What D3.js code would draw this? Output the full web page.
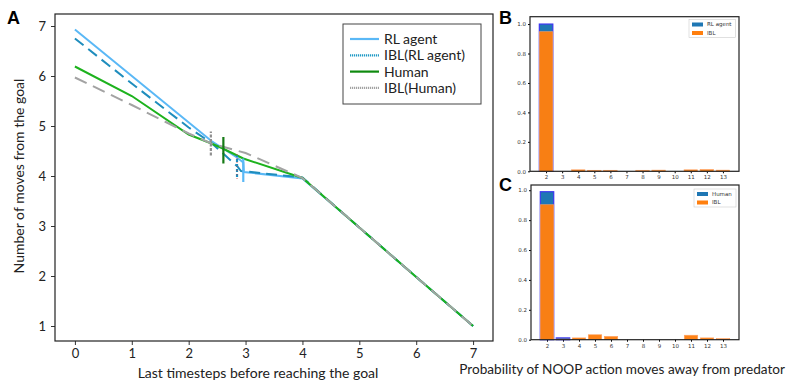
<!DOCTYPE html>
<html>
<head>
<meta charset="utf-8">
<script src="https://cdn.jsdelivr.net/npm/d3@7"></script>
<style>
  body { margin: 0; background: #fff; }
  svg { display: block; }
  .ax text { font-family: Lato, "Noto Sans", sans-serif; font-size: 13px; fill: #222; }
  .ax text.lbl { font-size: 14px; }
  .sm text { font-family: "DejaVu Sans", sans-serif; font-size: 5.5px; fill: #333; }
</style>
</head>
<body>
<svg id="chart" width="787" height="381"></svg>
<script>
// panel A: mean moves from goal over the last timesteps
var rlX = [0, 2.4, 2.85, 2.96, 2.97, 4, 5, 6, 7];
var rlY = [6.93, 4.70, 4.37, 4.27, 4.08, 3.95, 2.97, 1.98, 1];
var iblRlX = [0, 1, 2, 2.4, 2.85, 2.92, 4, 5, 6, 7];
var iblRlY = [6.75, 5.85, 4.97, 4.66, 4.2, 4.1, 3.97, 2.97, 1.98, 1];
var humanX = [0, 1, 2, 2.4, 2.6, 2.96, 4, 5, 6, 7];
var humanY = [6.19, 5.6, 4.83, 4.65, 4.55, 4.35, 3.96, 2.97, 1.98, 1];
var iblHumanX = [0, 1, 2, 2.4, 3, 4, 5, 6, 7];
var iblHumanY = [5.97, 5.42, 4.85, 4.65, 4.46, 3.96, 2.97, 1.98, 1];

// error bars: gray, green, teal, light blue
var errX = [2.39, 2.61, 2.85, 2.96];
var errLo = [4.41, 4.25, 3.98, 3.88];
var errHi = [4.89, 4.78, 4.41, 4.35];

var xTicksA = [0, 1, 2, 3, 4, 5, 6, 7];
var yTicksA = [1, 2, 3, 4, 5, 6, 7];

// panels B and C: probability of NOOP
var cats = [2, 3, 4, 5, 6, 7, 8, 9, 10, 11, 12, 13];
var rlAgentProb = [1.0, 0, 0, 0, 0, 0, 0, 0, 0, 0, 0, 0];
var iblRlProb = [0.948, 0, 0.01, 0.007, 0.007, 0, 0.007, 0.008, 0, 0.01, 0.012, 0.008];
var humanProb = [0.99, 0.012, 0, 0, 0, 0, 0, 0, 0, 0, 0, 0];
var iblHumanProb = [0.903, 0.004, 0.012, 0.033, 0.022, 0, 0, 0, 0, 0.03, 0.012, 0.007];
var yTicksBar = [0, 0.2, 0.4, 0.6, 0.8, 1.0];

var svg = d3.select("#chart");

// ---------- panel A ----------
var x = d3.scaleLinear().domain([-0.35, 7.35]).range([55, 493]);
var y = d3.scaleLinear().domain([0.7, 7.24]).range([341, 14]);

var gA = svg.append("g").attr("class", "ax");

gA.append("g")
  .attr("transform", "translate(0," + y.range()[0] + ")")
  .call(d3.axisBottom(x).tickValues(xTicksA).tickSize(4).tickPadding(4).tickFormat(d3.format("d")))
  .call(function(g) { g.select(".domain").remove(); });
gA.append("g")
  .attr("transform", "translate(" + x.range()[0] + ",0)")
  .call(d3.axisLeft(y).tickValues(yTicksA).tickSize(4).tickPadding(5).tickFormat(d3.format("d")))
  .call(function(g) { g.select(".domain").remove(); });
gA.selectAll(".tick line").attr("stroke", "#333");

var line = d3.line()
  .x(function(d) { return x(d[0]); })
  .y(function(d) { return y(d[1]); });

function pairs(xs, ys) {
  return xs.map(function(v, i) { return [v, ys[i]]; });
}

// drawn in this order so gray ends up on top after step 4, like the original
var series = [
  { pts: pairs(rlX, rlY), color: "#5ab8f6", dash: null, w: 2 },
  { pts: pairs(iblRlX, iblRlY), color: "#1f8dbd", dash: "11,6", w: 2 },
  { pts: pairs(humanX, humanY), color: "#1db21d", dash: null, w: 2 },
  { pts: pairs(iblHumanX, iblHumanY), color: "#a3a3a3", dash: "13,7", w: 2 }
];

gA.selectAll("path.series")
  .data(series)
  .enter()
  .append("path")
  .attr("class", "series")
  .attr("d", function(s) { return line(s.pts); })
  .attr("fill", "none")
  .attr("stroke", function(s) { return s.color; })
  .attr("stroke-width", function(s) { return s.w; })
  .attr("stroke-dasharray", function(s) { return s.dash; });

var errColors = ["#8f8f8f", "#157a15", "#1f8dbd", "#5ab8f6"];
var errDash = ["3,1.5", null, "3,2", null];
gA.selectAll("line.err")
  .data(errX)
  .enter()
  .append("line")
  .attr("class", "err")
  .attr("x1", function(d) { return x(d); })
  .attr("x2", function(d) { return x(d); })
  .attr("y1", function(d, i) { return y(errLo[i]); })
  .attr("y2", function(d, i) { return y(errHi[i]); })
  .attr("stroke", function(d, i) { return errColors[i]; })
  .attr("stroke-width", 2.2)
  .attr("stroke-dasharray", function(d, i) { return errDash[i]; });
// thin red cap line on the IBL(RL agent) bar
gA.append("line")
  .attr("x1", x(errX[2])).attr("x2", x(errX[2]))
  .attr("y1", y(errLo[2]) + 2).attr("y2", y(errHi[2]) - 2)
  .attr("stroke", "#d04040").attr("stroke-width", 0.8).attr("stroke-dasharray", "1,3");

gA.append("rect")
  .attr("x", x.range()[0]).attr("y", y.range()[1])
  .attr("width", x.range()[1] - x.range()[0])
  .attr("height", y.range()[0] - y.range()[1])
  .attr("fill", "none").attr("stroke", "#222").attr("stroke-width", 1.2);

// legend A
var legA = gA.append("g").attr("transform", "translate(343,24)");
legA.append("rect").attr("width", 138).attr("height", 80)
  .attr("fill", "#fff").attr("stroke", "#444").attr("stroke-width", 1);
var legItems = [
  { name: "RL agent", color: "#5ab8f6", dash: null },
  { name: "IBL(RL agent)", color: "#1f9ac6", dash: "1.2,0.8" },
  { name: "Human", color: "#0e8a0e", dash: null },
  { name: "IBL(Human)", color: "#a3a3a3", dash: "1.2,0.8" }
];
var li = legA.selectAll("g.li").data(legItems).enter().append("g")
  .attr("transform", function(d, i) { return "translate(0," + (15 + i * 16.3) + ")"; });
li.append("line").attr("x1", 7).attr("x2", 36)
  .attr("stroke", function(d) { return d.color; })
  .attr("stroke-width", 2.2)
  .attr("stroke-dasharray", function(d) { return d.dash; });
li.append("text").attr("x", 41).attr("dy", "0.35em")
  .style("font-size", "14px")
  .text(function(d) { return d.name; });

gA.append("text").attr("class", "lbl").attr("x", 258).attr("y", 378).attr("text-anchor", "middle")
  .text("Last timesteps before reaching the goal");
gA.append("text").attr("class", "lbl").attr("transform", "translate(24,176) rotate(-90)")
  .attr("text-anchor", "middle")
  .text("Number of moves from the goal");
gA.append("text").attr("class", "lbl").attr("x", 785).attr("y", 374).attr("text-anchor", "end")
  .style("font-size", "13.6px")
  .text("Probability of NOOP action moves away from predator");

svg.append("text").attr("x", 7).attr("y", 24)
  .style("font-family", "Liberation Sans, Arial, sans-serif")
  .style("font-weight", "bold").style("font-size", "18px")
  .text("A");

// ---------- panels B and C ----------
function barPanel(opt) {
  var bx = d3.scaleLinear().domain([1.0, 14.0]).range(opt.xr);
  var by = d3.scaleLinear().domain([0, opt.ymax]).range(opt.yr);
  var g = svg.append("g").attr("class", "sm");
  var bw = (bx(2) - bx(1)) * 0.84;

  g.append("g").attr("transform", "translate(0," + opt.yr[0] + ")")
    .call(d3.axisBottom(bx).tickValues(cats).tickSize(2).tickPadding(2).tickFormat(d3.format("d")))
    .call(function(a) { a.select(".domain").remove(); });
  g.append("g").attr("transform", "translate(" + opt.xr[0] + ",0)")
    .call(d3.axisLeft(by).tickValues(yTicksBar).tickSize(2).tickPadding(2).tickFormat(d3.format(".1f")))
    .call(function(a) { a.select(".domain").remove(); });

  g.selectAll("rect.front")
    .data(cats)
    .enter()
    .append("rect")
    .attr("x", function(c) { return bx(c) - bw / 2; })
    .attr("width", bw)
    .attr("y", function(c, i) { return by(opt.a[i]); })
    .attr("height", function(c, i) { return by(0) - by(opt.a[i]); })
    .attr("fill", "#1f77b4")
    .attr("stroke", function(c, i) { return opt.a[i] > 0 ? "#3b35f0" : "none"; })
    .attr("stroke-width", 1.2);

  g.selectAll("rect.ibl")
    .data(cats)
    .enter()
    .append("rect")
    .attr("x", function(c) { return bx(c) - bw / 2; })
    .attr("width", bw)
    .attr("y", function(c, i) { return by(opt.b[i]); })
    .attr("height", function(c, i) { return by(0) - by(opt.b[i]); })
    .attr("fill", "#ff7f0e")
    .attr("fill-opacity", 0.97)
    .attr("stroke", function(c, i) { return opt.b[i] > 0 ? "#ffa060" : "none"; })
    .attr("stroke-width", 0.6);

  g.append("rect")
    .attr("x", opt.xr[0]).attr("y", opt.yr[1])
    .attr("width", opt.xr[1] - opt.xr[0]).attr("height", opt.yr[0] - opt.yr[1])
    .attr("fill", "none").attr("stroke", "#222").attr("stroke-width", 1.2);

  var leg = g.append("g").attr("transform", "translate(" + opt.leg[0] + "," + opt.leg[1] + ")");
  leg.append("rect").attr("width", opt.leg[2]).attr("height", 18)
    .attr("fill", "#fff").attr("stroke", "#ccc").attr("stroke-width", 0.6);
  [[opt.names[0], "#1f77b4"], [opt.names[1], "#ff7f0e"]].forEach(function(d, i) {
    leg.append("rect").attr("x", 3).attr("y", 3 + i * 8.5).attr("width", 11).attr("height", 4)
      .attr("fill", d[1]);
    leg.append("text").attr("x", 18).attr("y", 5 + i * 8.5).attr("dy", "0.35em").text(d[0]);
  });

  svg.append("text").attr("x", opt.label[1]).attr("y", opt.label[2])
    .style("font-family", "Liberation Sans, Arial, sans-serif")
    .style("font-weight", "bold").style("font-size", "18px")
    .text(opt.label[0]);
}

barPanel({ xr: [530, 739], yr: [171.3, 16.7], ymax: 1.05, a: rlAgentProb, b: iblRlProb,
  names: ["RL agent", "IBL"], leg: [689, 19.5, 46.5], label: ["B", 499, 24] });
barPanel({ xr: [531, 739], yr: [339.7, 185], ymax: 1.035, a: humanProb, b: iblHumanProb,
  names: ["Human", "IBL"], leg: [694, 189, 42], label: ["C", 499, 191] });
</script>
</body>
</html>
